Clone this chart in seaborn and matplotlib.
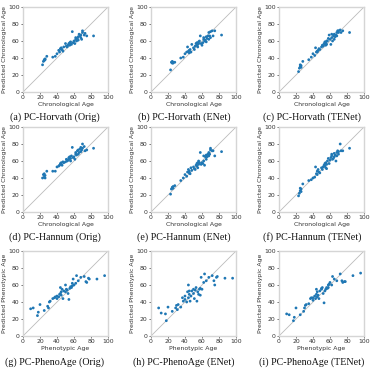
import numpy as np
import pandas as pd
import matplotlib
matplotlib.use("Agg")
import matplotlib.pyplot as plt
import seaborn as sns

# ---- data ----
chrono_age = [23, 24, 25, 25, 26, 26, 28, 35, 38, 40,
              42, 43, 44, 45, 45, 46, 47, 48, 50, 51,
              52, 53, 54, 54, 55, 55, 56, 56, 57, 58,
              59, 60, 61, 62, 62, 63, 64, 65, 65, 66,
              67, 68, 68, 69, 70, 70, 72, 73, 75, 83]
horvath_orig = [32, 36, 38, 37, 39, 38, 42, 41, 42, 45, 49, 47, 51, 50, 52, 50, 48, 53, 57, 54,
                53, 55, 56, 57, 58, 55, 57, 59, 56, 71, 58, 60, 57, 62, 64, 60, 63, 65, 61, 68,
                66, 64, 67, 62, 70, 72, 67, 69, 66, 66]
horvath_enet = [26, 35, 34, 36, 35, 34, 35, 40, 41, 45, 47, 53, 48, 49, 46, 50, 47, 56, 52, 50,
                54, 57, 55, 58, 56, 53, 59, 57, 60, 66, 57, 55, 58, 64, 62, 60, 61, 65, 59, 63,
                66, 70, 62, 66, 71, 64, 72, 66, 72, 67]
horvath_tenet = [24, 28, 30, 32, 31, 29, 36, 38, 41, 45, 43, 52, 47, 48, 47, 49, 51, 50, 53, 55,
                 54, 57, 56, 59, 58, 55, 56, 60, 60, 63, 67, 62, 56, 68, 64, 60, 66, 62, 68, 65,
                 67, 70, 66, 72, 72, 70, 73, 70, 72, 70]
hannum_orig = [40, 44, 41, 45, 43, 40, 48, 48, 48, 53, 54, 55, 57, 56, 58, 55, 59, 58, 59, 62,
               60, 61, 63, 64, 62, 65, 60, 63, 66, 76, 64, 65, 62, 68, 70, 67, 72, 68, 73, 70,
               74, 71, 76, 73, 80, 75, 77, 72, 73, 75]
hannum_enet = [21, 27, 29, 28, 30, 28, 31, 37, 40, 44, 42, 47, 50, 46, 48, 45, 52, 49, 53, 51,
               50, 55, 54, 57, 58, 52, 56, 60, 58, 70, 56, 58, 57, 66, 60, 55, 65, 62, 67, 65,
               68, 66, 70, 68, 73, 75, 72, 72, 66, 71]
hannum_tenet = [19, 22, 25, 28, 24, 27, 33, 37, 38, 40, 41, 53, 45, 48, 44, 50, 47, 46, 52, 50,
                53, 55, 57, 54, 52, 58, 56, 51, 60, 63, 57, 61, 64, 68, 66, 62, 63, 65, 69, 67,
                60, 70, 66, 72, 71, 68, 80, 72, 72, 75]

pheno_age = [9, 12, 17, 18, 20, 25, 29, 30, 31, 32,
             35, 37, 38, 40, 40, 42, 43, 44, 44, 45,
             45, 46, 47, 48, 50, 50, 51, 52, 53, 54,
             55, 56, 57, 58, 58, 59, 60, 62, 63, 65,
             68, 72, 74, 75, 77, 78, 87, 96]
pheno_orig = [32, 33, 24, 28, 37, 30, 35, 33, 40, 41, 44, 45, 46, 44, 47, 46, 49, 50, 57, 52,
              48, 55, 44, 53, 60, 52, 55, 54, 50, 43, 56, 58, 57, 59, 62, 67, 60, 62, 71, 65,
              69, 70, 64, 63, 68, 67, 67, 71]
pheno_enet = [33, 27, 26, 18, 34, 29, 33, 36, 31, 37, 34, 45, 41, 43, 47, 40, 52, 60, 45, 53,
              49, 41, 47, 53, 50, 55, 44, 54, 57, 41, 52, 49, 55, 56, 48, 69, 55, 63, 73, 65,
              69, 71, 65, 60, 69, 70, 68, 68]
pheno_tenet = [26, 25, 18, 22, 33, 25, 29, 33, 36, 37, 38, 44, 45, 42, 45, 47, 44, 49, 55, 52,
               46, 48, 44, 53, 56, 55, 57, 50, 39, 53, 55, 57, 56, 57, 60, 61, 63, 60, 70, 67,
               65, 73, 65, 63, 64, 64, 71, 74]

captions = ["(a) PC-Horvath (Orig)", "(b) PC-Horvath (ENet)", "(c) PC-Horvath (TENet)",
            "(d) PC-Hannum (Orig)", "(e) PC-Hannum (ENet)", "(f) PC-Hannum (TENet)",
            "(g) PC-PhenoAge (Orig)", "(h) PC-PhenoAge (ENet)", "(i) PC-PhenoAge (TENet)"]
xlabels = ["Chronological Age"] * 6 + ["Phenotypic Age"] * 3
ylabels = ["Predicted Chronological Age"] * 6 + ["Predicted Phenotypic Age"] * 3
xs = [chrono_age] * 6 + [pheno_age] * 3
ys = [horvath_orig, horvath_enet, horvath_tenet,
      hannum_orig, hannum_enet, hannum_tenet,
      pheno_orig, pheno_enet, pheno_tenet]
ticks = [0, 20, 40, 60, 80, 100]

# ---- plot ----
sns.set_theme(style="white")
plt.rcParams['font.family'] = ['DejaVu Sans']

W, H = 378, 371
fig = plt.figure(figsize=(W / 100, H / 100), dpi=100)

lefts = [23, 151, 279]
tops = [7, 127, 251]
aw, ah = 85, 85
cap_x = [55, 184, 312]
cap_y = [117, 237, 362]

for i in range(9):
    r, c = divmod(i, 3)
    ax = fig.add_axes([lefts[c] / W, 1 - (tops[r] + ah) / H, aw / W, ah / H])
    df = pd.DataFrame({"x": xs[i], "y": ys[i]})
    ax.plot([0, 100], [0, 100], color="#bbbbbb", lw=0.6, zorder=1)
    sns.scatterplot(data=df, x="x", y="y", ax=ax, s=4, color="#1f77b4",
                    edgecolor="none", linewidth=0, zorder=2)
    ax.set_xlim(0, 100)
    ax.set_ylim(0, 100)
    ax.set_xticks(ticks)
    ax.set_yticks(ticks)
    ax.tick_params(labelsize=4.4, length=1.5, width=0.5, pad=1, colors="#333333",
                   bottom=True, left=True)
    ax.set_xlabel(xlabels[i], fontsize=4.4, labelpad=1, color="#333333")
    ax.set_ylabel(ylabels[i], fontsize=4.4, labelpad=1, color="#333333")
    for sp in ax.spines.values():
        sp.set_color("#d5d5d5")
        sp.set_linewidth(1.0)
    fig.text(cap_x[c] / W, 1 - cap_y[r] / H, captions[i], ha="center", va="center",
             fontsize=7.2, family=["Liberation Serif", "DejaVu Serif"], color="#111111")

fig.savefig("out.png", dpi=100)
